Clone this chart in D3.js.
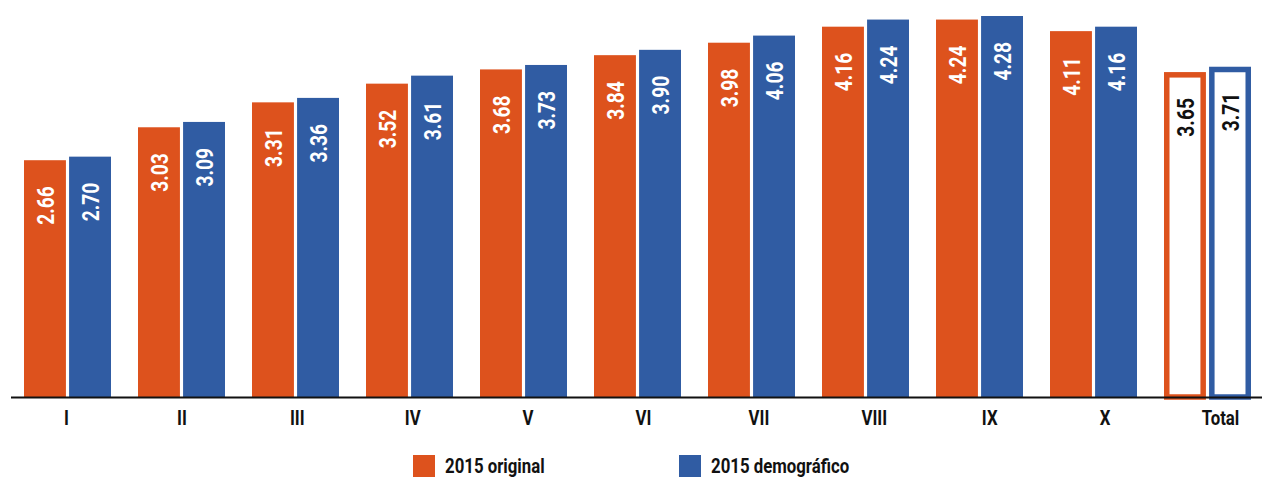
<!DOCTYPE html>
<html><head><meta charset="utf-8">
<script src="https://cdn.jsdelivr.net/npm/d3@7"></script>
<style>
body{margin:0;background:#fff;}
text{font-family:Roboto,"Liberation Sans",sans-serif;font-weight:bold;}
</style></head>
<body><svg id="c" width="1262" height="477"></svg>
<script>
const categories = ["I","II","III","IV","V","VI","VII","VIII","IX","X","Total"];
const seriesNames = ["2015 original","2015 demográfico"];
const original = [2.66,3.03,3.31,3.52,3.68,3.84,3.98,4.16,4.24,4.11,3.65];
const demografico = [2.70,3.09,3.36,3.61,3.73,3.90,4.06,4.24,4.28,4.16,3.71];
const colors = ["#DD521D","#305CA3"];

const svg = d3.select("#c");
const baseY = 397;
const squeeze = 0.8;
const y = d3.scaleLinear().domain([0,4.28]).range([baseY, 16]);
const x0 = d3.scaleBand().domain(categories).range([10.5,1264.5]).paddingInner(0.237).paddingOuter(0.1185);
const x1 = d3.scaleBand().domain(seriesNames).range([0,x0.bandwidth()]).paddingInner(0.07);
const xLab = d3.scalePoint().domain(categories).range([66,1220]);

const data = categories.map((c,i)=>({cat:c, vals:[original[i],demografico[i]]}));

const g = svg.selectAll("g.grp").data(data).enter().append("g")
  .attr("transform",d=>`translate(${x0(d.cat)},0)`);

g.each(function(d){
  const gg = d3.select(this);
  const isTotal = d.cat==="Total";
  d.vals.forEach((v,k)=>{
    const bx = x1(seriesNames[k]), bw = x1.bandwidth();
    if(isTotal){
      const sw=5.5;
      gg.append("rect").attr("x",bx+sw/2).attr("y",y(v)+sw/2)
        .attr("width",bw-sw).attr("height",baseY-y(v)-sw/2)
        .attr("fill","#fff").attr("stroke",colors[k]).attr("stroke-width",sw);
    } else {
      gg.append("rect").attr("x",bx).attr("y",y(v))
        .attr("width",bw).attr("height",baseY-y(v)).attr("fill",colors[k]);
    }
    const tx = bx+bw/2+9, ty = y(v)+26;
    gg.append("text").attr("transform",`translate(${tx},${ty}) rotate(-90) scale(${squeeze},1)`)
      .attr("text-anchor","end").attr("font-size",24)
      .attr("fill",isTotal?"#111":"#fff").text(v.toFixed(2));
  });
});

// axis line from band scale
const axLine = d3.axisBottom(x0).tickSize(0).tickFormat("");
const ax = svg.append("g").attr("transform",`translate(0,${baseY})`).call(axLine);
ax.select(".domain").attr("stroke","#111").attr("stroke-width",2.2);

// tick labels
const axT = d3.axisBottom(xLab).tickSize(0).tickPadding(0);
const at = svg.append("g").attr("transform",`translate(0,${baseY})`).call(axT);
at.select(".domain").remove();
at.selectAll(".tick text").attr("y",0).attr("dy",0)
  .attr("transform",`translate(0,28) scale(${squeeze},1)`)
  .attr("font-size",21).attr("fill","#111")
  .style("font-family",'Roboto,"Liberation Sans",sans-serif').style("font-weight","bold");

const legX = [413,679];
const leg = svg.selectAll("g.leg").data(seriesNames).enter().append("g")
  .attr("transform",(d,i)=>`translate(${legX[i]},455)`);
leg.append("rect").attr("width",22).attr("height",22).attr("fill",(d,i)=>colors[i]);
leg.append("text").attr("transform",`translate(32,18) scale(${squeeze},1)`)
  .attr("font-size",21).attr("fill","#111").text(d=>d);
</script></body></html>
